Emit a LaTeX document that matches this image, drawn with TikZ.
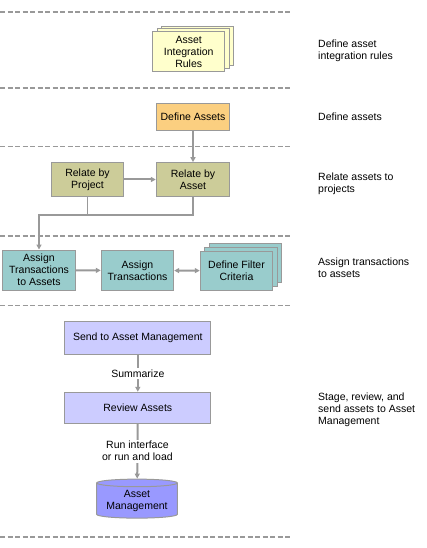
\documentclass[tikz,border=0pt]{standalone}
\usepackage{fontspec}
\setmainfont{Liberation Sans}
\usetikzlibrary{shapes.geometric,arrows.meta}
\definecolor{lgray}{HTML}{999999}
\definecolor{cyell}{HTML}{FFFFCC}
\definecolor{corange}{HTML}{FBCF80}
\definecolor{colive}{HTML}{CCCC99}
\definecolor{cteal}{HTML}{99CCCC}
\definecolor{clav}{HTML}{CCCCFF}
\definecolor{cblue}{HTML}{9999FF}
\tikzset{
  box/.style={draw=lgray, line width=1bp, align=center, inner sep=1bp, font=\fontsize{10.5bp}{12bp}\selectfont},
  arr/.style={draw=lgray, line width=2bp, -{Triangle[length=5bp,width=5bp]}},
  darr/.style={draw=lgray, line width=2bp, {Triangle[length=5bp,width=5bp]}-{Triangle[length=5bp,width=5bp]}},
  plain/.style={draw=lgray, line width=2bp},
  thinl/.style={draw=lgray, line width=1bp},
  sep/.style={draw=lgray, line width=1.6bp, dash pattern=on 5bp off 2.5bp},
  side/.style={anchor=west, align=left, inner sep=0pt, font=\fontsize{10.5bp}{12bp}\selectfont},
  elab/.style={fill=white, align=center, inner sep=1.5bp, font=\fontsize{10.5bp}{12bp}\selectfont}
}
\begin{document}
\begin{tikzpicture}[x=1bp,y=-1bp]
\useasboundingbox (0,0) rectangle (426,548);
% separators
\foreach \yy in {12,88,146.7,236,305.5,537} \draw[sep] (0,\yy) -- (292,\yy);
% asset integration rules stack
\node[box, fill=cyell, minimum width=72bp, minimum height=39.6bp] (air3) at (197.3,46.1) {};
\node[box, fill=cyell, minimum width=72bp, minimum height=39.6bp] (air2) at (193,48.8) {};
\node[box, fill=cyell, minimum width=72bp, minimum height=39.6bp] (air) at (188.7,51.5) {Asset\\Integration\\Rules};
% define assets
\node[box, fill=corange, minimum width=73.4bp, minimum height=27bp] (def) at (193,116.8) {Define Assets};
% relate
\node[box, fill=colive, minimum width=72.4bp, minimum height=33.6bp] (rbp) at (87.5,179.5) {Relate by\\Project};
\node[box, fill=colive, minimum width=73.4bp, minimum height=33.6bp] (rba) at (193,179.5) {Relate by\\Asset};
% assign
\node[box, fill=cteal, minimum width=72.6bp, minimum height=40.3bp] (ata) at (39,270.2) {Assign\\Transactions\\to Assets};
\node[box, fill=cteal, minimum width=72.4bp, minimum height=39.6bp] (at) at (137.5,270.5) {Assign\\Transactions};
\node[box, fill=cteal, minimum width=72.4bp, minimum height=39.3bp] (dfc3) at (245.5,263) {};
\node[box, fill=cteal, minimum width=72.4bp, minimum height=39.3bp] (dfc2) at (241,266.85) {};
\node[box, fill=cteal, minimum width=72.4bp, minimum height=39.3bp] (dfc) at (236.5,270.7) {Define Filter\\Criteria};
% stage
\node[box, fill=clav, minimum width=145.7bp, minimum height=32.6bp] (sam) at (137.8,338) {Send to Asset Management};
\node[box, fill=clav, minimum width=145.7bp, minimum height=31bp] (ra) at (137.8,407.8) {Review Assets};
\node[box, fill=cblue, cylinder, shape border rotate=90, aspect=0.12, minimum width=80.6bp, minimum height=39bp] (am) at (137,501.2) {Asset\\Management};
% connectors
\coordinate (jy) at (0,215.3);
\draw[arr] (def) -- (rba);
\draw[arr] (rbp) -- (rba);
\draw[thinl] (rbp.south) -- (rbp.south |- jy);
\draw[arr] (rba.south) -- (rba.south |- jy) -| (ata.north);
\draw[arr] (ata) -- (at);
\draw[darr] (at) -- (dfc);
\draw[arr] (sam) -- node[elab] {Summarize} (ra);
\draw[arr] (ra) -- node[elab] {Run interface\\or run and load} (am);
% side labels
\node[side] (l1) at (318,50.7) {Define asset\\integration rules};
\node[side] (l2) at (318,116.7) {Define assets};
\node[side] (l3) at (318,183.8) {Relate assets to\\projects};
\node[side] (l4) at (318,267.7) {Assign transactions\\to assets};
\node[side] (l5) at (318,409.7) {Stage, review, and\\send assets to Asset\\Management};
\end{tikzpicture}
\end{document}
